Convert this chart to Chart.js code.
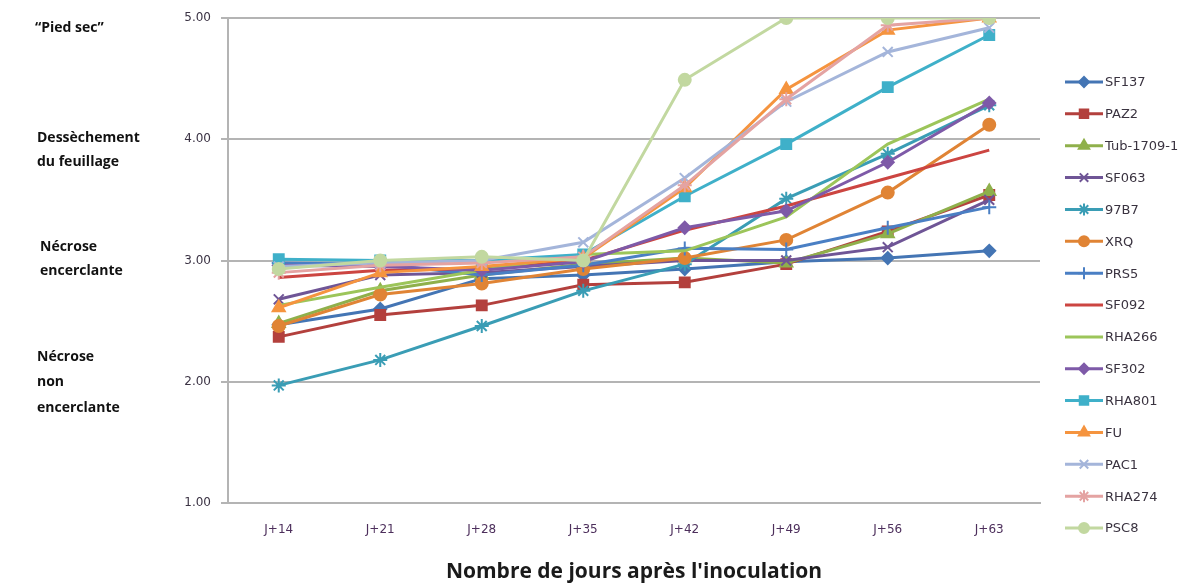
<!DOCTYPE html>
<html>
<head>
<meta charset="utf-8">
<script src="https://cdn.jsdelivr.net/npm/chart.js@4.4.1/dist/chart.umd.min.js"></script>
<style>
  html, body { margin: 0; padding: 0; background: #fff; }
  #wrap { width: 1195px; height: 585px; }
</style>
</head>
<body>
<div id="wrap"><canvas id="myChart" width="1195" height="585"></canvas></div>
<script>
const labels = ["J+14", "J+21", "J+28", "J+35", "J+42", "J+49", "J+56", "J+63"];

const sf137 = [2.47, 2.60, 2.85, 2.88, 2.93, 2.99, 3.02, 3.08];
const paz2 = [2.37, 2.55, 2.63, 2.80, 2.82, 2.97, 3.24, 3.54];
const tub17091 = [2.48, 2.75, 2.88, 2.97, 3.02, 2.98, 3.22, 3.57];
const sf063 = [2.68, 2.88, 2.90, 2.95, 3.00, 3.00, 3.11, 3.50];
const b97b7 = [1.97, 2.18, 2.46, 2.75, 2.97, 3.51, 3.88, 4.28];
const xrq = [2.46, 2.72, 2.81, 2.93, 3.02, 3.17, 3.56, 4.12];
const prs5 = [2.98, 2.97, 2.88, 2.96, 3.10, 3.09, 3.27, 3.44];
const sf092 = [2.86, 2.92, 2.93, 3.00, 3.25, 3.45, 3.68, 3.91];
const rha266 = [2.63, 2.78, 2.92, 3.05, 3.08, 3.36, 3.96, 4.33];
const sf302 = [2.96, 2.95, 2.92, 2.99, 3.27, 3.41, 3.81, 4.30];
const rha801 = [3.01, 3.00, 3.00, 3.05, 3.53, 3.96, 4.43, 4.86];
const fu = [2.61, 2.90, 2.95, 3.02, 3.60, 4.41, 4.90, 5.00];
const pac1 = [2.95, 2.98, 3.00, 3.15, 3.68, 4.31, 4.72, 4.92];
const rha274 = [2.90, 2.96, 2.98, 3.03, 3.62, 4.33, 4.94, 5.00];
const psc8 = [2.93, 3.00, 3.03, 3.00, 4.49, 5.00, 5.00, 5.00];

const yTicks = [1, 2, 3, 4, 5];
const sideLabels = [
  ["\u201CPied sec\u201D"],
  ["Dess\u00E8chement", "du feuillage"],
  ["N\u00E9crose", "encerclante"],
  ["N\u00E9crose", "non", "encerclante"]
];
const xTitle = "Nombre de jours apr\u00E8s l'inoculation";

// name, values, colour, marker, radius
const series = [
  ["SF137", sf137, "#4475b4", "rectRot", 6],
  ["PAZ2", paz2, "#b3403d", "rect", 7],
  ["Tub-1709-1", tub17091, "#8fb04b", "triangle", 7],
  ["SF063", sf063, "#6f5596", "crossRot", 7],
  ["97B7", b97b7, "#3a9db5", "star", 7],
  ["XRQ", xrq, "#e08435", "circle", 6],
  ["PRS5", prs5, "#4a7fc4", "cross", 7],
  ["SF092", sf092, "#cc4541", false, 0],
  ["RHA266", rha266, "#9cc55a", false, 0],
  ["SF302", sf302, "#7e5aa8", "rectRot", 6],
  ["RHA801", rha801, "#3fb0c9", "rect", 7],
  ["FU", fu, "#f5943f", "triangle", 7],
  ["PAC1", pac1, "#a4b5da", "crossRot", 7],
  ["RHA274", rha274, "#e4a3a2", "star", 7],
  ["PSC8", psc8, "#c2d8a0", "circle", 6]
];

const datasets = series.map((s, i) => ({
  label: s[0],
  data: s[1],
  borderColor: s[2],
  backgroundColor: s[2],
  pointBackgroundColor: s[2],
  pointBorderColor: s[2],
  pointStyle: s[3],
  pointRadius: s[4],
  pointBorderWidth: 2,
  borderWidth: 3,
  tension: 0,
  order: series.length - i
}));

const font = "'Open Sans', 'DejaVu Sans', sans-serif";
const tickFont = "'DejaVu Sans', sans-serif";

// legend on the right, drawn like the spreadsheet one (line + marker)
const sideLegend = {
  id: "sideLegend",
  afterDraw(chart) {
    const ctx = chart.ctx;
    const x0 = 1065, x1 = 1103, top = 82, step = 31.86;
    ctx.save();
    chart.data.datasets.forEach((ds, i) => {
      const y = top + i * step;
      ctx.strokeStyle = ds.borderColor;
      ctx.lineWidth = 3;
      ctx.beginPath();
      ctx.moveTo(x0, y);
      ctx.lineTo(x1, y);
      ctx.stroke();
      if (ds.pointStyle) {
        ctx.fillStyle = ds.pointBackgroundColor;
        ctx.strokeStyle = ds.pointBorderColor;
        ctx.lineWidth = 2;
        Chart.helpers.drawPoint(ctx, { pointStyle: ds.pointStyle, radius: ds.pointRadius - 1, rotation: 0, borderWidth: 2 }, (x0 + x1) / 2, y);
      }
      ctx.fillStyle = "#3a3340";
      ctx.font = "13px " + tickFont;
      ctx.textAlign = "left";
      ctx.textBaseline = "middle";
      ctx.fillText(ds.label, x1 + 2, y + 1);
    });
    ctx.restore();
  }
};

// scale descriptions in the left margin
const sideText = {
  id: "sideText",
  afterDraw(chart) {
    const ctx = chart.ctx;
    const starts = [28, 138, 247, 357];
    const gaps = [0, 24, 24, 25.5];
    const lefts = [35, 37, 40, 37];
    ctx.save();
    ctx.fillStyle = "#111";
    ctx.font = "bold 14px " + font;
    ctx.textAlign = "left";
    ctx.textBaseline = "middle";
    sideLabels.forEach((lines, i) => {
      lines.forEach((t, j) => ctx.fillText(t, lefts[i], starts[i] + j * gaps[i]));
    });
    ctx.restore();
  }
};

const config = {
  type: "line",
  data: { labels: labels, datasets: datasets },
  options: {
    responsive: false,
    animation: false,
    layout: { padding: { left: 0, right: 155, top: 18, bottom: 0 } },
    plugins: {
      legend: { display: false },
      tooltip: { enabled: false }
    },
    scales: {
      x: {
        offset: true,
        grid: { display: false, drawTicks: false },
        border: { display: true, color: "#b4b4b4", width: 2 },
        ticks: { color: "#4d2f5c", font: { family: tickFont, size: 12 }, padding: 20 },
        title: {
          display: true,
          text: xTitle,
          color: "#1a1a1a",
          font: { family: font, size: 21, weight: "bold" },
          padding: { top: 0, bottom: 0 }
        },
        afterFit: (scale) => { scale.height = 82; }
      },
      y: {
        min: 1,
        max: 5,
        afterBuildTicks: (scale) => { scale.ticks = yTicks.map(v => ({ value: v })); },
        grid: { color: "#b4b4b4", lineWidth: 2, tickLength: 7 },
        border: { display: true, color: "#b4b4b4", width: 2 },
        ticks: {
          color: "#3b3344",
          font: { family: tickFont, size: 12 },
          padding: 10,
          callback: (v) => Number(v).toFixed(2)
        },
        afterFit: (scale) => { scale.width = 228; }
      }
    }
  },
  plugins: [sideLegend, sideText]
};

new Chart(document.getElementById("myChart").getContext("2d"), config);
</script>
</body>
</html>
